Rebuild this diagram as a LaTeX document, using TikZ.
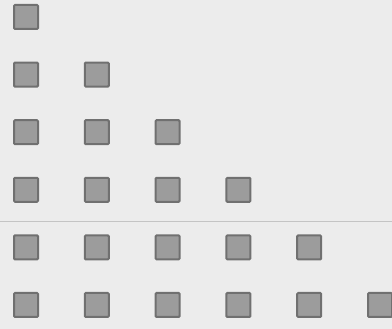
\documentclass[tikz,border=0pt]{standalone}
\usepackage{tikz}
\usepackage{xcolor}
\definecolor{BG}{RGB}{236,236,236}
\definecolor{SQf}{RGB}{156,156,156}
\definecolor{SQb}{RGB}{112,112,112}
\definecolor{RULE}{RGB}{196,196,196}

\begin{document}
\begin{tikzpicture}[
  x=1pt, y=-1pt,
  sqbox/.style = {
    rectangle, rounded corners=1pt,
    draw=SQb, fill=SQf, line width=2pt,
    minimum width=24pt, minimum height=24pt, inner sep=0pt
  },
  rule/.style = {RULE, line width=1pt}
]

%% ---------- Background ----------
\fill[BG] (0,0) rectangle (392,329);
\useasboundingbox (0,0) rectangle (392,329);

%% ---------- Divider ----------
\coordinate (ruleL) at (0,222);
\coordinate (ruleR) at (392,222);
\draw[rule] (ruleL) -- (ruleR);

%% ---------- Triangle of squares ----------
\foreach \r in {1,...,6}{
  \foreach \c in {1,...,\r}{
    \node[sqbox] (sq-\r-\c) at ({26+70.8*(\c-1)}, {17+57.6*(\r-1)}) {};
  }
}

\end{tikzpicture}
\end{document}
